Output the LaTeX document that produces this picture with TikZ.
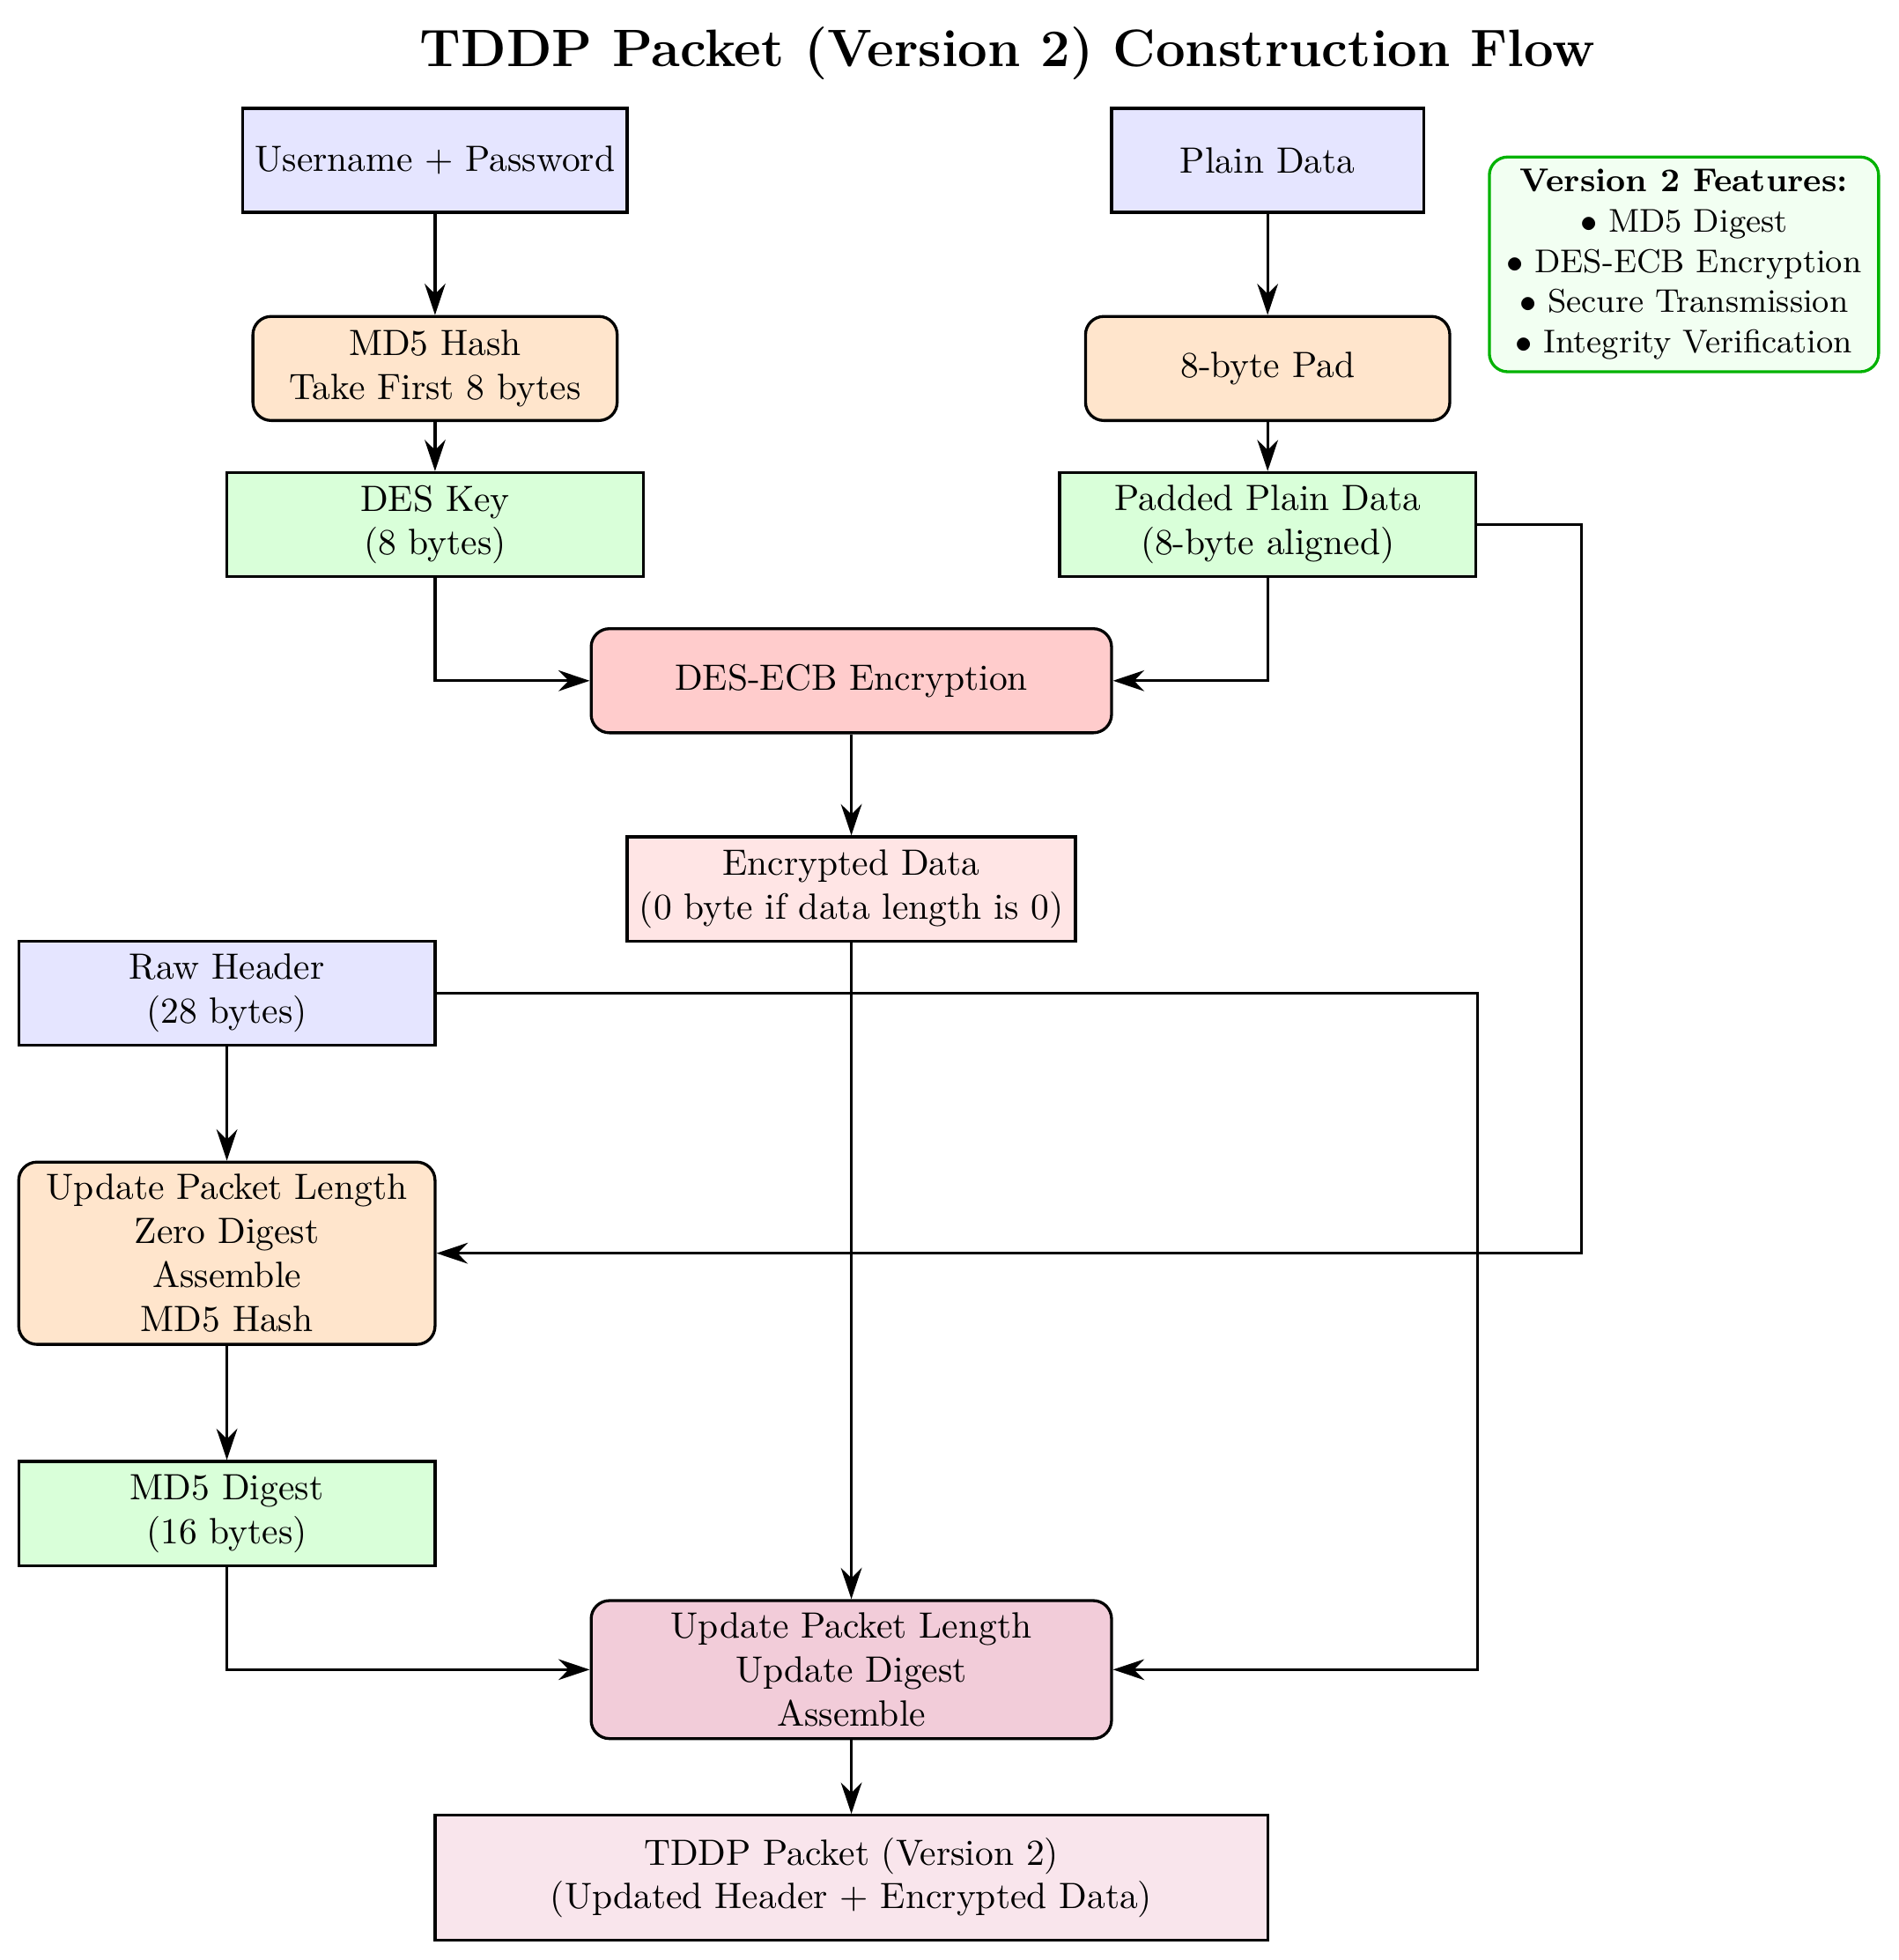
\documentclass[tikz,border=0pt]{standalone}
\usetikzlibrary{arrows.meta}

\begin{document}
\begin{tikzpicture}[
	data/.style={rectangle, draw, thick, minimum width=4cm, minimum height=1cm, align=center},
	input/.style={data, fill=blue!10, minimum width=3cm},
	proc/.style={rectangle, rounded corners=5pt, draw, thick, minimum width=3.5cm, minimum height=1cm, align=center},
	arr/.style={thick, -{Stealth[length=3mm, width=2mm]}}
]
\useasboundingbox (-8.18,-17.29) rectangle (10.06,1.54);

\node[font=\Large\bfseries] (title) at (1.5,1.03) {TDDP Packet (Version 2) Construction Flow};

% Entradas
\node[input] (user) at (-4,0) {Username + Password};
\node[input] (plain) at (4,0) {Plain Data};
\node[input, minimum width=4cm] (raw) at (-6,-8) {Raw Header\\(28 bytes)};

% Clave y datos
\node[proc, fill=orange!20] (md5) at (-4,-2) {MD5 Hash\\Take First 8 bytes};
\node[proc, fill=orange!20] (pad) at (4,-2) {8-byte Pad};
\node[data, fill=green!15] (deskey) at (-4,-3.5) {DES Key\\(8 bytes)};
\node[data, fill=green!15] (padded) at (4,-3.5) {Padded Plain Data\\(8-byte aligned)};

% Cifrado
\node[proc, fill=red!20, minimum width=5cm] (des) at (0,-5) {DES-ECB Encryption};
\node[data, fill=red!10, minimum width=3cm] (enc) at (0,-7) {Encrypted Data\\(0 byte if data length is 0)};

% Cabecera y digest
\node[proc, fill=orange!20, minimum width=4cm] (upd1) at (-6,-10.5) {Update Packet Length\\Zero Digest\\Assemble\\MD5 Hash};
\node[data, fill=green!15] (digest) at (-6,-13) {MD5 Digest\\(16 bytes)};
\node[proc, fill=purple!20, minimum width=5cm] (upd2) at (0,-14.5) {Update Packet Length\\Update Digest\\Assemble};
\node[data, fill=purple!10, minimum width=8cm, minimum height=1.2cm] (tddp) at (0,-16.5) {TDDP Packet (Version 2)\\(Updated Header + Encrypted Data)};

% Notas
\node[rectangle, rounded corners=5pt, draw=green!70!black, thick, fill=green!5, align=center, font=\small, inner xsep=4.7pt] (notes) at (8,-1)
	{\textbf{Version 2 Features:}\\$\bullet$ MD5 Digest\\$\bullet$ DES-ECB Encryption\\$\bullet$ Secure Transmission\\$\bullet$ Integrity Verification};

% Flechas
\draw[arr] (user) -- (md5);
\draw[arr] (md5) -- (deskey);
\draw[arr] (plain) -- (pad);
\draw[arr] (pad) -- (padded);
\draw[arr] (deskey) |- (des);
\draw[arr] (padded) |- (des);
\draw[arr] (des) -- (enc);
\draw[arr] (enc) -- (upd2);
\draw[arr] (padded.east) -- ++(1,0) |- (upd1.east);
\draw[arr] (raw.east) -- ++(10,0) |- (upd2.east);
\draw[arr] (raw) -- (upd1);
\draw[arr] (upd1) -- (digest);
\draw[arr] (digest) |- (upd2);
\draw[arr] (upd2) -- (tddp);
\end{tikzpicture}
\end{document}
